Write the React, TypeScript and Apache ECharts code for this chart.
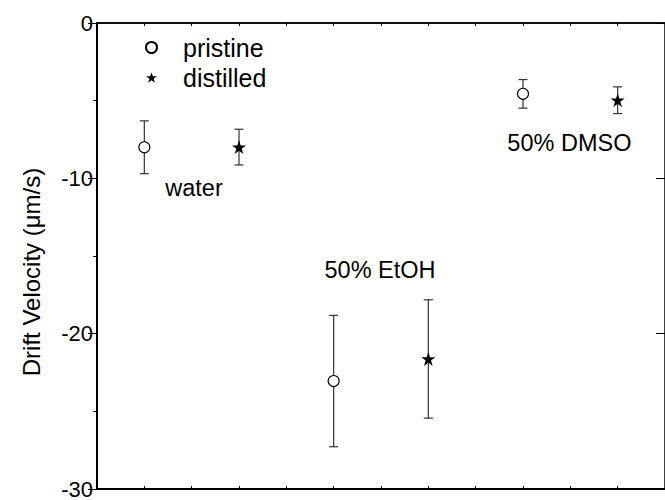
import React, { useEffect, useRef } from "react";
import * as echarts from "echarts";

const groupLabels = ["water", "50% EtOH", "50% DMSO"];
const pristineX = [1, 5, 9];
const distilledX = [3, 7, 11];
const pristineMean = [-8.0, -23.05, -4.56];
const pristineErr = [1.7, 4.23, 0.92];
const distilledMean = [-7.99, -21.63, -4.97];
const distilledErr = [1.15, 3.81, 0.86];
const labelX = [2.05, 5.98, 9.98];
const labelY = [-10.64, -15.9, -7.75];
const yTicks = [-30, -20, -10, 0];
const yTitle = "Drift Velocity (\u03bcm/s)";

const STAR =
  "path://M50,0 L62,36 L100,36 L69,58 L81,95 L50,72 L19,95 L31,58 L0,36 L38,36 Z";
const FONT = "Liberation Sans, Arial, sans-serif";

export default function App() {
  const ref = useRef<HTMLDivElement>(null);
  useEffect(() => {
    if (!ref.current) return;
    const chart = echarts.init(ref.current, undefined, { renderer: "svg" });
    const errData = (xs: number[], m: number[], e: number[]) =>
      xs.map((x, i) => [x, m[i] - e[i], m[i] + e[i]]);
    const renderErr = (params: any, api: any) => {
      const x = api.value(0);
      const lo = api.coord([x, api.value(1)]);
      const hi = api.coord([x, api.value(2)]);
      const w = 4.5;
      const style = { stroke: "#333", lineWidth: 1.2 };
      return {
        type: "group",
        children: [
          { type: "line", shape: { x1: lo[0], y1: lo[1], x2: hi[0], y2: hi[1] }, style },
          { type: "line", shape: { x1: lo[0] - w, y1: lo[1], x2: lo[0] + w, y2: lo[1] }, style },
          { type: "line", shape: { x1: hi[0] - w, y1: hi[1], x2: hi[0] + w, y2: hi[1] }, style },
        ],
      };
    };
    const xCommon = {
      type: "value",
      show: true,
      min: 0,
      max: 12,
      interval: 1,
      axisTick: { show: true, inside: true, length: 3, lineStyle: { color: "#000" } },
      axisLabel: { show: false },
      splitLine: { show: false },
    };
    chart.setOption({
      animation: false,
      textStyle: { fontFamily: FONT },
      grid: { left: 97, top: 23, right: -6, bottom: 10 },
      legend: {
        orient: "vertical",
        left: 140,
        top: 30,
        itemWidth: 11,
        itemHeight: 11,
        itemGap: 5,
        data: ["pristine", "distilled"],
        textStyle: { fontSize: 25, color: "#000", fontFamily: FONT, padding: [0, 0, 0, 21] },
      },
      graphic: [
        {
          type: "text",
          x: 31,
          y: 272,
          rotation: Math.PI / 2,
          style: {
            text: yTitle,
            fontSize: 24,
            fontFamily: FONT,
            fill: "#000",
            align: "center",
            verticalAlign: "middle",
          },
        },
      ],
      xAxis: [
        {
          ...xCommon,
          position: "bottom",
          axisLine: { show: true, onZero: false, lineStyle: { color: "#000", width: 2 } },
        },
        {
          ...xCommon,
          position: "top",
          axisLine: { show: true, onZero: false, lineStyle: { color: "#111", width: 2 } },
        },
      ],
      yAxis: [
        {
          type: "value",
          min: yTicks[0],
          max: yTicks[yTicks.length - 1],
          interval: 10,
          position: "left",
          axisLine: { show: true, onZero: false, lineStyle: { color: "#000", width: 2 } },
          axisTick: { show: true, inside: false, length: 9, lineStyle: { color: "#000" } },
          minorTick: { show: true, splitNumber: 2, length: 4, lineStyle: { color: "#000" } },
          axisLabel: { fontSize: 22, color: "#000", fontFamily: FONT, margin: 4 },
          splitLine: { show: false },
        },
        {
          type: "value",
          min: yTicks[0],
          max: yTicks[yTicks.length - 1],
          interval: 10,
          position: "right",
          axisLine: { show: true, onZero: false, lineStyle: { color: "#000", width: 1.5 } },
          axisTick: { show: true, inside: true, length: 9, lineStyle: { color: "#000" } },
          axisLabel: { show: false },
          splitLine: { show: false },
        },
      ],
      series: [
        {
          type: "custom",
          renderItem: renderErr,
          data: errData(pristineX, pristineMean, pristineErr),
          encode: { x: 0, y: [1, 2] },
          z: 1,
        },
        {
          type: "custom",
          renderItem: renderErr,
          data: errData(distilledX, distilledMean, distilledErr),
          encode: { x: 0, y: [1, 2] },
          z: 1,
        },
        {
          name: "pristine",
          type: "scatter",
          symbol: "circle",
          symbolSize: 11,
          itemStyle: { color: "#fff", borderColor: "#000", borderWidth: 1.1, opacity: 1 },
          data: pristineX.map((x, i) => [x, pristineMean[i]]),
          z: 5,
        },
        {
          name: "distilled",
          type: "scatter",
          symbol: STAR,
          symbolSize: 14,
          itemStyle: { color: "#000", opacity: 1 },
          data: distilledX.map((x, i) => [x, distilledMean[i]]),
          z: 5,
        },
        {
          type: "scatter",
          symbolSize: 1,
          itemStyle: { color: "transparent", opacity: 1 },
          silent: true,
          data: groupLabels.map((n, i) => ({ name: n, value: [labelX[i], labelY[i]] })),
          label: {
            show: true,
            position: "inside",
            formatter: (p: any) => p.name,
            fontSize: 23.5,
            color: "#000",
            fontFamily: FONT,
            opacity: 1,
          },
        },
      ],
    });
    return () => chart.dispose();
  }, []);
  return (
    <div
      ref={ref}
      style={{ position: "absolute", left: 0, top: 0, width: 665, height: 500, background: "#fff" }}
    />
  );
}
